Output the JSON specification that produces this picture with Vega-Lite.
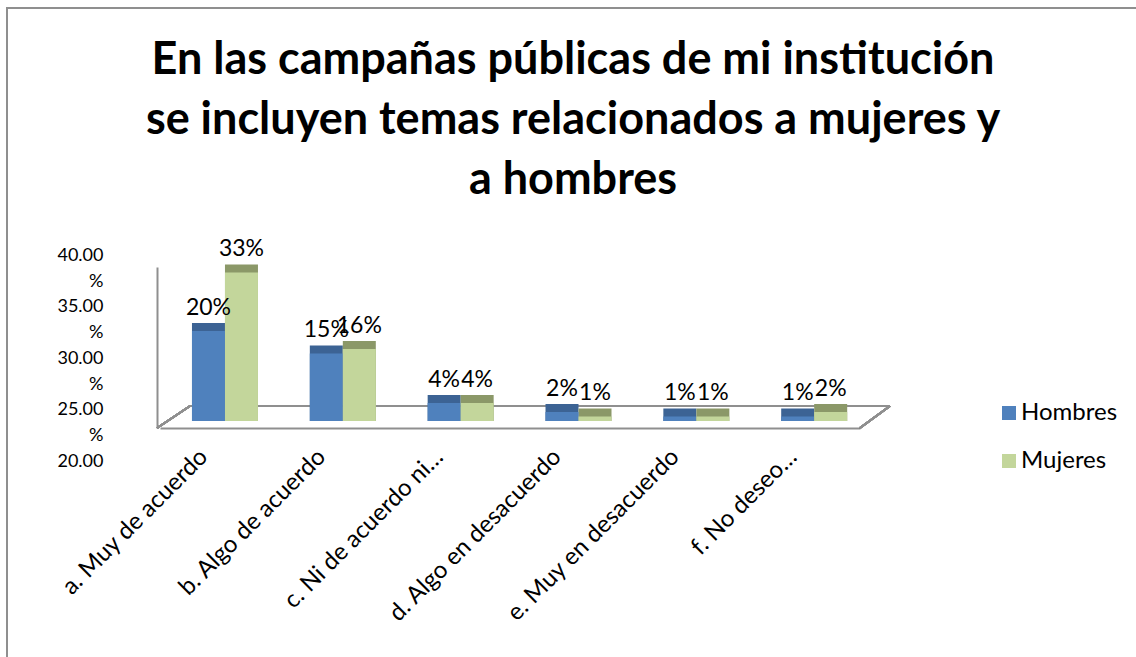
{
  "$schema": "https://vega.github.io/schema/vega-lite/v6.json",
  "autosize": "none",
  "padding": {"left": 7, "top": 8, "right": 0, "bottom": 0},
  "width": 1140,
  "height": 660,
  "background": "white",
  "config": {
    "view": {"stroke": "#8f8f8f", "strokeWidth": 2},
    "font": "Lato"
  },
  "title": {
    "text": ["En las campañas públicas de mi institución", "se incluyen temas relacionados a mujeres y", "a hombres"],
    "font": "Lato",
    "fontSize": 45,
    "fontWeight": "bold",
    "color": "#000000",
    "anchor": "middle",
    "frame": "group",
    "baseline": "top",
    "offset": -195,
    "dx": -4,
    "lineHeight": 60
  },
  "data": {
    "values": [
      {"cat": "a. Muy de acuerdo", "serie": "Hombres", "value": 0.20},
      {"cat": "a. Muy de acuerdo", "serie": "Mujeres", "value": 0.33},
      {"cat": "b. Algo de acuerdo", "serie": "Hombres", "value": 0.15},
      {"cat": "b. Algo de acuerdo", "serie": "Mujeres", "value": 0.16},
      {"cat": "c. Ni de acuerdo ni…", "serie": "Hombres", "value": 0.04},
      {"cat": "c. Ni de acuerdo ni…", "serie": "Mujeres", "value": 0.04},
      {"cat": "d. Algo en desacuerdo", "serie": "Hombres", "value": 0.02},
      {"cat": "d. Algo en desacuerdo", "serie": "Mujeres", "value": 0.01},
      {"cat": "e. Muy en desacuerdo", "serie": "Hombres", "value": 0.01},
      {"cat": "e. Muy en desacuerdo", "serie": "Mujeres", "value": 0.01},
      {"cat": "f. No deseo…", "serie": "Hombres", "value": 0.01},
      {"cat": "f. No deseo…", "serie": "Mujeres", "value": 0.02}
    ]
  },
  "layer": [
    {
      "layer": [
        {
          "mark": {"type": "rule", "color": "#8f8f8f", "strokeWidth": 2},
          "encoding": {
            "x": {"datum": 0, "type": "quantitative", "scale": {"domain": [0, 1], "range": [183, 883], "nice": false, "zero": false}, "axis": null},
            "x2": {"datum": 1},
            "y": {
              "datum": 25.34, "type": "quantitative",
              "scale": {"domain": [20, 40], "range": [453, 247], "nice": false, "zero": false},
              "axis": {
                "orient": "left", "offset": -96, "title": null,
                "values": [20, 25, 30, 35, 40],
                "domain": false, "ticks": false, "tickSize": 0, "grid": false,
                "labelPadding": 0, "labelAlign": "right", "labelBaseline": "middle",
                "labelFont": "Lato", "labelFontSize": 18, "labelColor": "#000000", "labelLineHeight": 26,
                "labelExpr": "datum.value == 20 ? '20.00' : [format(datum.value, '.2f'), '%']"
              }
            }
          }
        },
        {
          "mark": {"type": "rule", "color": "#8f8f8f", "strokeWidth": 2},
          "encoding": {
            "x": {"datum": -0.047, "type": "quantitative"},
            "x2": {"datum": 0},
            "y": {"datum": 23.2, "type": "quantitative"},
            "y2": {"datum": 25.34}
          }
        },
        {
          "mark": {"type": "rule", "color": "#8f8f8f", "strokeWidth": 2},
          "encoding": {
            "x": {"datum": 1, "type": "quantitative"},
            "x2": {"datum": 0.957},
            "y": {"datum": 25.34, "type": "quantitative"},
            "y2": {"datum": 23.2}
          }
        }
      ]
    },
    {
      "encoding": {
        "x": {
          "field": "cat", "type": "nominal", "sort": null,
          "scale": {"range": [153, 853], "paddingInner": 0.44, "paddingOuter": 0.19, "align": 0.714, "round": false},
          "axis": {
            "orient": "bottom", "offset": -240, "title": null,
            "domain": true, "domainColor": "#8f8f8f", "domainWidth": 2,
            "ticks": false, "tickSize": 0,
            "labelAngle": -45, "labelAlign": "right", "labelBaseline": "middle",
            "labelPadding": 25, "labelOffset": -21,
            "labelFont": "Lato", "labelFontSize": 24, "labelColor": "#000000",
            "labelOverlap": false, "labelLimit": 400
          }
        },
        "xOffset": {"field": "serie", "type": "nominal", "scale": {"domain": ["Hombres", "Mujeres"], "paddingInner": 0, "paddingOuter": 0}},
        "y": {
          "field": "value", "type": "quantitative",
          "scale": {"domain": [-0.01556, 0.34222], "range": [420, 259], "zero": false, "nice": false},
          "axis": {
            "orient": "left", "offset": -150, "title": null,
            "domain": true, "domainColor": "#8f8f8f", "domainWidth": 2,
            "ticks": false, "labels": false, "grid": false
          }
        },
        "y2": {"datum": 0}
      },
      "layer": [
        {
          "mark": {"type": "bar", "xOffset": 10, "yOffset": -8},
          "encoding": {
            "color": {"condition": {"test": "datum.serie === 'Hombres'", "value": "#3c6394"}, "value": "#8b9868"}
          }
        },
        {
          "mark": {"type": "bar"},
          "encoding": {
            "color": {
              "field": "serie", "type": "nominal",
              "scale": {"domain": ["Hombres", "Mujeres"], "range": ["#4f81bd", "#c3d69b"]},
              "legend": {
                "title": null, "orient": "none", "legendX": 990, "legendY": 393,
                "symbolType": "square", "symbolSize": 196, "symbolStrokeWidth": 0,
                "labelFont": "Lato", "labelFontSize": 24, "labelColor": "#000000",
                "labelOffset": 0, "rowPadding": 24, "padding": 0
              }
            }
          }
        },
        {
          "mark": {"type": "text", "font": "Lato", "fontSize": 23, "color": "#000000", "baseline": "alphabetic", "dy": -16, "align": "center"},
          "encoding": {
            "text": {"field": "value", "type": "quantitative", "format": ".0%"}
          }
        }
      ]
    }
  ],
  "resolve": {"scale": {"x": "independent", "y": "independent", "color": "independent"}, "axis": {"x": "independent", "y": "independent"}}
}
